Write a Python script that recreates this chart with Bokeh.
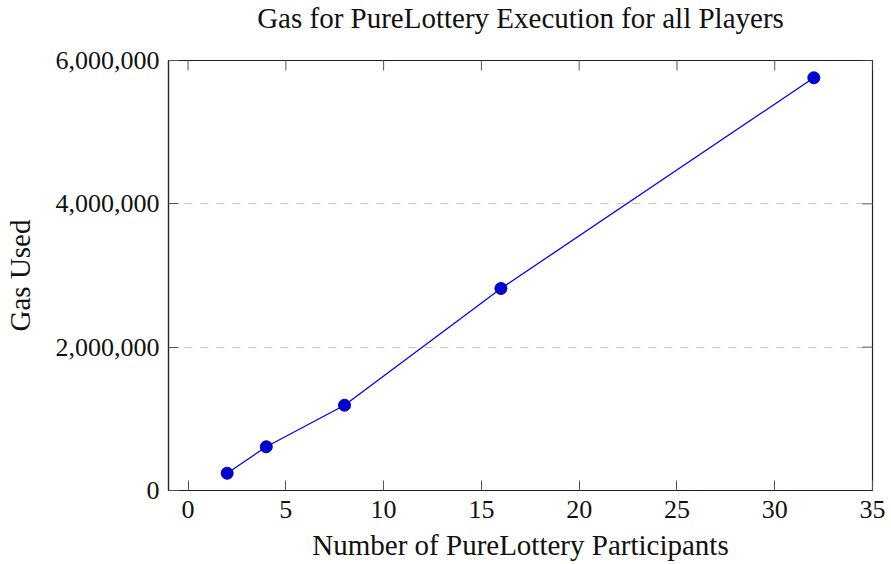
import math
from bokeh.plotting import figure
from bokeh.models import Range1d, NumeralTickFormatter, FixedTicker, LinearAxis
from bokeh.embed import file_html
from bokeh.resources import INLINE

# Data
participants = [2, 4, 8, 16, 32]
gas_used = [241000, 610000, 1190000, 2819000, 5759000]
x_ticks = [0, 5, 10, 15, 20, 25, 30, 35]
y_ticks = [0, 2000000, 4000000, 6000000]
x_min, x_max = -1, 35
y_min, y_max = 0, 6000000

title_text = "Gas for PureLottery Execution for all Players"
x_label = "Number of PureLottery Participants"
y_label = "Gas Used"

FONT = "Liberation Serif"
LABEL_SIZE = "29px"

p = figure(width=891, height=564, output_backend="svg", toolbar_location=None,
           title=title_text,
           x_range=Range1d(x_min, x_max), y_range=Range1d(y_min, y_max),
           min_border_left=167, min_border_right=19, min_border_top=60,
           min_border_bottom=74, x_axis_label=x_label, y_axis_label=y_label)

p.background_fill_color = "white"
p.border_fill_color = "white"
p.outline_line_color = "#222222"
p.outline_line_width = 1.2

p.title.align = "center"
p.title.vertical_align = "top"
p.title.standoff = 0
p.title.text_font = FONT
p.title.text_font_size = LABEL_SIZE
p.title.text_font_style = "normal"
p.title.text_color = "#111111"

def style_axis(ax):
    ax.major_tick_in = 10
    ax.major_tick_out = 0
    ax.minor_tick_line_color = None
    ax.major_tick_line_color = "#555555"
    ax.major_tick_line_width = 1
    ax.axis_line_color = "#222222"
    ax.axis_line_width = 1.2
    ax.major_label_text_font = FONT
    ax.major_label_text_color = "#111111"
    ax.major_label_text_font_size = "26px"
    ax.axis_label_text_font = FONT
    ax.axis_label_text_font_style = "normal"
    ax.axis_label_text_color = "#111111"
    ax.axis_label_text_font_size = LABEL_SIZE

xax = p.below[0]
yax = p.left[0]
xax.ticker = FixedTicker(ticks=x_ticks)
yax.ticker = FixedTicker(ticks=y_ticks)
yax.formatter = NumeralTickFormatter(format="0,0")
style_axis(xax)
style_axis(yax)
xax.major_label_standoff = 10
xax.axis_label_standoff = 8
yax.major_label_standoff = 9
yax.axis_label_standoff = 17

# blank spacer panel between the frame and the title (lifts the title)
spacer = LinearAxis(ticker=FixedTicker(ticks=[]), major_tick_in=0, major_tick_out=0,
                    minor_tick_in=0, minor_tick_out=0, major_label_standoff=0,
                    axis_line_color=None, major_tick_line_color=None,
                    minor_tick_line_color=None, axis_label=" ",
                    axis_label_standoff=3, axis_label_text_font=FONT,
                    axis_label_text_font_size="17px", axis_label_text_color="white")
p.add_layout(spacer, "above")

# inward tick marks on the top and right edges (half of each dash is clipped by the frame)
p.scatter(x_ticks, [y_max] * len(x_ticks), marker="dash", angle=math.pi / 2, size=20,
          line_color="#555555", line_width=1)
p.scatter([x_max] * len(y_ticks), y_ticks, marker="dash", size=20,
          line_color="#555555", line_width=1)

p.xgrid.grid_line_color = None
p.ygrid.ticker = FixedTicker(ticks=y_ticks)
p.ygrid.grid_line_color = "#c4c4c4"
p.ygrid.grid_line_dash = "8 8"
p.ygrid.grid_line_width = 1

p.line(participants, gas_used, line_color="#0000ff", line_width=1.3)
p.scatter(participants, gas_used, size=12, fill_color="#0000d0",
          line_color="#0000b8", line_width=1)

open("out.html", "w").write(file_html(p, INLINE))
